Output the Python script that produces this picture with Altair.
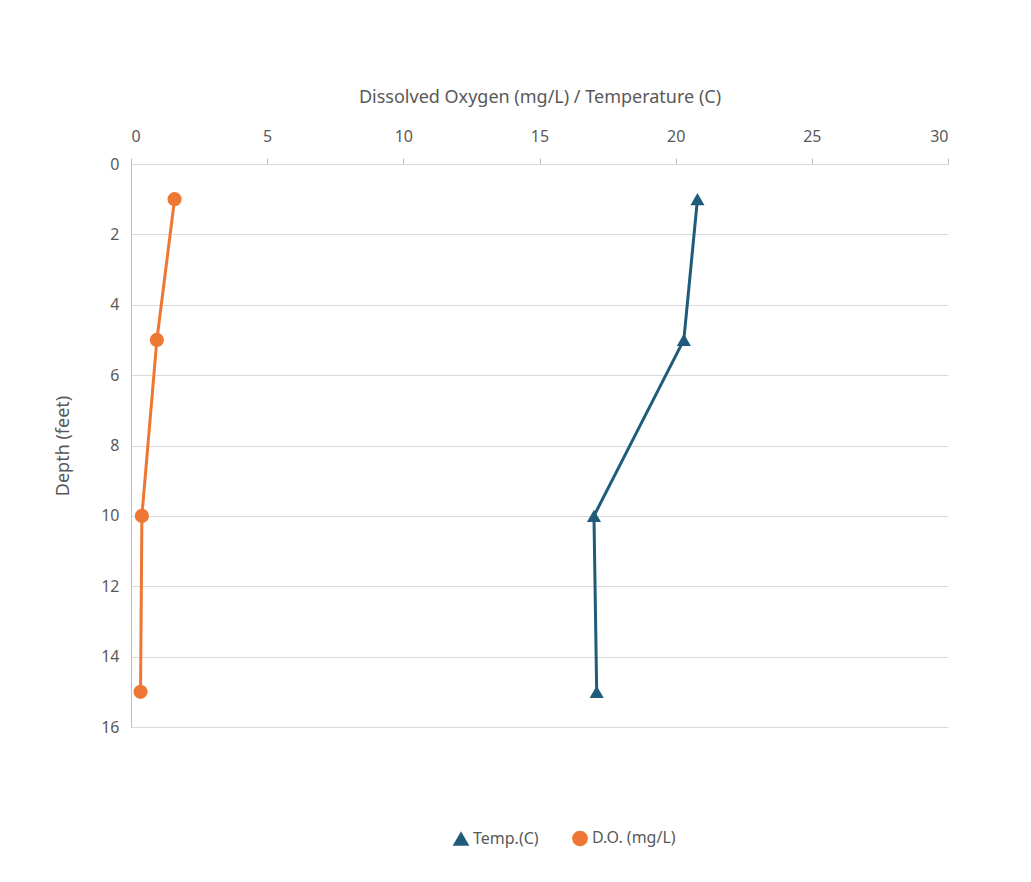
import altair as alt
import pandas as pd

depth = [1, 5, 10, 15]
temp = [20.8, 20.3, 17.0, 17.1]
do = [1.6, 0.95, 0.4, 0.35]

df = pd.concat([
    pd.DataFrame({'depth': depth, 'value': temp, 'series': 'Temp.(C)'}),
    pd.DataFrame({'depth': depth, 'value': do, 'series': 'D.O. (mg/L)'}),
])

series_order = ['Temp.(C)', 'D.O. (mg/L)']
colors = ['#1F5C7A', '#EE7733']

chart = (
    alt.Chart(df)
    .mark_line(strokeWidth=3, point=alt.OverlayMarkDef(size=200, filled=True, opacity=1))
    .encode(
        x=alt.X('value:Q', scale=alt.Scale(domain=[0, 30]),
                axis=alt.Axis(orient='top', title='Dissolved Oxygen (mg/L) / Temperature (C)',
                              values=[0, 5, 10, 15, 20, 25, 30], grid=False, domain=False,
                              tickColor='#BFBFBF', tickSize=6, labelPadding=14, titlePadding=22)),
        y=alt.Y('depth:Q', scale=alt.Scale(domain=[0, 16], reverse=True, nice=False),
                axis=alt.Axis(title='Depth (feet)', values=list(range(0, 17, 2)),
                              gridColor='#D9D9D9', domainColor='#BFBFBF', ticks=False,
                              labelPadding=12, titlePadding=28)),
        color=alt.Color('series:N', sort=series_order,
                        scale=alt.Scale(domain=series_order, range=colors),
                        legend=alt.Legend(title=None, orient='none', legendX=322, legendY=666,
                                          direction='horizontal', symbolSize=200,
                                          labelFontSize=16, labelColor='#595959', columnPadding=30)),
        shape=alt.Shape('series:N', sort=series_order,
                        scale=alt.Scale(domain=series_order, range=['triangle-up', 'circle']),
                        legend=None),
        order='depth:Q',
    )
    .properties(width=817, height=563, padding={'left': 46, 'top': 80, 'right': 20, 'bottom': 20})
    .configure_view(stroke=None)
    .configure_axis(labelFontSize=16, titleFontSize=18, labelColor='#595959', titleColor='#595959',
                    titleFontWeight='normal', labelFont='Noto Sans', titleFont='Noto Sans')
    .configure_legend(labelFont='Noto Sans')
)

chart.save("out.html", embed_options={"renderer": "svg", "actions": False})
